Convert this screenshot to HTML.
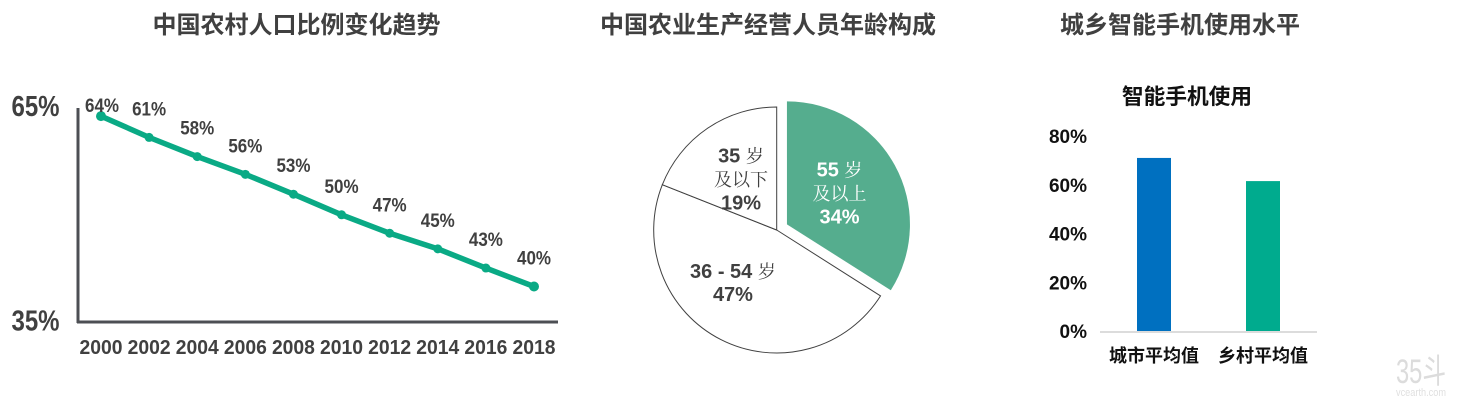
<!DOCTYPE html>
<html lang="zh">
<head>
<meta charset="utf-8">
<title>中国农村人口与智能手机使用</title>
<style>
html,body{margin:0;padding:0;background:#fff;width:1459px;height:408px;overflow:hidden}
svg{display:block;font-family:"Liberation Sans","Noto Sans CJK SC",sans-serif}
.title{font-family:"Liberation Sans","Noto Sans CJK SC",sans-serif;font-weight:700;font-size:24px;fill:#404040;text-anchor:middle}
.lbl{font-weight:700;fill:#404040;text-anchor:middle}
.pie-txt{text-anchor:middle;white-space:pre}
.cjk{font-family:"Noto Serif CJK SC","Noto Sans CJK SC",serif;font-weight:400;font-size:18px}
.num{font-family:"Liberation Sans",sans-serif;font-weight:700;font-size:20px}
.blk{font-weight:700;fill:#111}
</style>
</head>
<body>
<svg id="chart" width="1459" height="408" viewBox="0 0 1459 408" xmlns="http://www.w3.org/2000/svg">
  <text class="title" x="296.5" y="33">中国农村人口比例变化趋势</text>
  <text class="title" x="768" y="33">中国农业生产经营人员年龄构成</text>
  <text class="title" x="1180" y="33">城乡智能手机使用水平</text>

  <g id="line-chart">
    <line x1="78" y1="108" x2="78" y2="323" stroke="#4d4f54" stroke-width="3"/>
    <line x1="77" y1="322" x2="558" y2="322" stroke="#4d4f54" stroke-width="3"/>
    <text class="lbl" x="35.5" y="116" font-size="29" textLength="48" lengthAdjust="spacingAndGlyphs">65%</text>
    <text class="lbl" x="35.5" y="330.5" font-size="29" textLength="48" lengthAdjust="spacingAndGlyphs">35%</text>
  </g>
  <g id="pie-chart"></g>
  <g id="bar-chart">
    <text x="1187" y="104" text-anchor="middle" font-size="21.7" class="blk">智能手机使用</text>
  </g>
  <g>
    <text x="1396" y="383" font-size="34" fill="#dcdcdc" textLength="50" lengthAdjust="spacingAndGlyphs">35斗</text>
    <text x="1396" y="396" font-size="11" fill="#e0e0e0" textLength="50" lengthAdjust="spacingAndGlyphs">vcearth.com</text>
  </g>
</svg>
<script>
const lineYears = ["2000","2002","2004","2006","2008","2010","2012","2014","2016","2018"];
const lineValues = [64, 61, 58.3, 55.8, 53, 50.1, 47.5, 45.3, 42.6, 40];
const lineLabels = ["64%","61%","58%","56%","53%","50%","47%","45%","43%","40%"];

const pieNames = ["55-plus", "36-to-54", "35-and-under"];
const pieValues = [34, 47, 19];
const pieText = [["55 岁","及以上"], ["36 - 54 岁"], ["35 岁","及以下"]];

const barCategories = ["城市平均值","乡村平均值"];
const barValues = [71, 61.5];
const barTicks = [0, 20, 40, 60, 80];

const NS = "http://www.w3.org/2000/svg";
function mk(parent, tag, attrs, text) {
  const el = document.createElementNS(NS, tag);
  for (const k in attrs) el.setAttribute(k, attrs[k]);
  if (text !== undefined) el.textContent = text;
  parent.appendChild(el);
  return el;
}

/* line chart */
const lineG = document.getElementById("line-chart");
const lx = i => 101 + i * (534 - 101) / (lineYears.length - 1);
const ly = v => 322 - (v - 35) * (322 - 109) / 30;
const linePts = lineValues.map((v, i) => lx(i) + "," + ly(v)).join(" ");
const trend = mk(lineG, "polyline", {points: linePts, fill: "none", stroke: "#0aaa85", "stroke-width": 5.5});


lineValues.forEach((v, i) => {
  const dot = mk(lineG, "circle", {cx: lx(i), cy: ly(v), r: i === 0 || i === lineValues.length - 1 ? 5 : 4.5, fill: "#0aaa85"});
  
  
  const off = i === 0 ? -4 : -22;
  const lab = mk(lineG, "text", {class: "lbl", x: lx(i) + (i === 0 ? 1 : 0), y: ly(v) + off, "font-size": 19.5, textLength: 34, lengthAdjust: "spacingAndGlyphs"}, lineLabels[i]);
  
  
  const yr = mk(lineG, "text", {class: "lbl", x: lx(i), y: 354, "font-size": 20, textLength: 43, lengthAdjust: "spacingAndGlyphs"}, lineYears[i]);
  
  
});

/* pie chart */
const pieG = document.getElementById("pie-chart");
const PCX = 776.7, PCY = 230, PR = 123;
const pieTotal = pieValues.reduce((a, b) => a + b, 0);
const polar = (cx, cy, r, a) => [cx + r * Math.sin(a), cy - r * Math.cos(a)];
const labelNudge = {0: [0, -2.5], 1: [-16.5, -1], 2: [-2, -1.4]};
let pieAngle = 0;
pieValues.forEach((v, i) => {
  const start = pieAngle, end = pieAngle + v / pieTotal * 2 * Math.PI, mid = (start + end) / 2;
  pieAngle = end;
  const exploded = i === 0;
  const cx = PCX + (exploded ? 11.7 * Math.sin(mid) : 0);
  const cy = PCY - (exploded ? 11.7 * Math.cos(mid) : 0);
  const p0 = polar(cx, cy, PR, start), p1 = polar(cx, cy, PR, end);
  const large = end - start > Math.PI ? 1 : 0;
  const d = "M" + cx + " " + cy + "L" + p0[0] + " " + p0[1] + "A" + PR + " " + PR + " 0 " + large + " 1 " + p1[0] + " " + p1[1] + "Z";
  const slice = mk(pieG, "path", {d: d, fill: exploded ? "#55ad8e" : "#fff", stroke: exploded ? "none" : "#404040", "stroke-width": 1});
  
  
});
pieAngle = 0;
pieValues.forEach((v, i) => {
  const start = pieAngle, end = pieAngle + v / pieTotal * 2 * Math.PI, mid = (start + end) / 2;
  pieAngle = end;
  const exploded = i === 0;
  const cx = PCX + (exploded ? 11.7 * Math.sin(mid) : 0);
  const cy = PCY - (exploded ? 11.7 * Math.cos(mid) : 0);
  const c = polar(cx, cy, 60, mid);
  const lines = pieText[i].concat([v + "%"]);
  const bx = c[0] + labelNudge[i][0], by = c[1] + labelNudge[i][1];
  lines.forEach((line, j) => {
    const t = mk(pieG, "text", {class: "pie-txt", x: bx, y: by + 7 + (j - (lines.length - 1) / 2) * 23.3, fill: exploded ? "#fff" : "#404040"});
    
    
    (line.match(/[\u4e00-\u9fff]+|[^\u4e00-\u9fff]+/g) || []).forEach(run => {
      mk(t, "tspan", {class: /[\u4e00-\u9fff]/.test(run) ? "cjk" : "num"}, run);
    });
  });
});

/* bar chart */
const barG = document.getElementById("bar-chart");
const by = v => 331 - v * (331 - 136) / 80;
const bx = i => 1154 + i * 109;
const baseline = mk(barG, "line", {x1: 1100, x2: 1317, y1: 332, y2: 332, stroke: "#d0d0d0", "stroke-width": 1.5});


barTicks.forEach(t => {
  const tl = mk(barG, "text", {class: "blk", x: 1087, y: by(t) + 7, "text-anchor": "end", "font-size": 19}, t + "%");
  
  
});
const barColors = ["#0070c0", "#00ab8e"];
barValues.forEach((v, i) => {
  const r = mk(barG, "rect", {x: bx(i) - 17, y: by(v), width: 34, height: 331 - by(v), fill: barColors[i]});
  
  
  const c = mk(barG, "text", {class: "blk", x: bx(i), y: 362, "text-anchor": "middle", "font-size": 18}, barCategories[i]);
  
  
});
</script>
</body>
</html>
